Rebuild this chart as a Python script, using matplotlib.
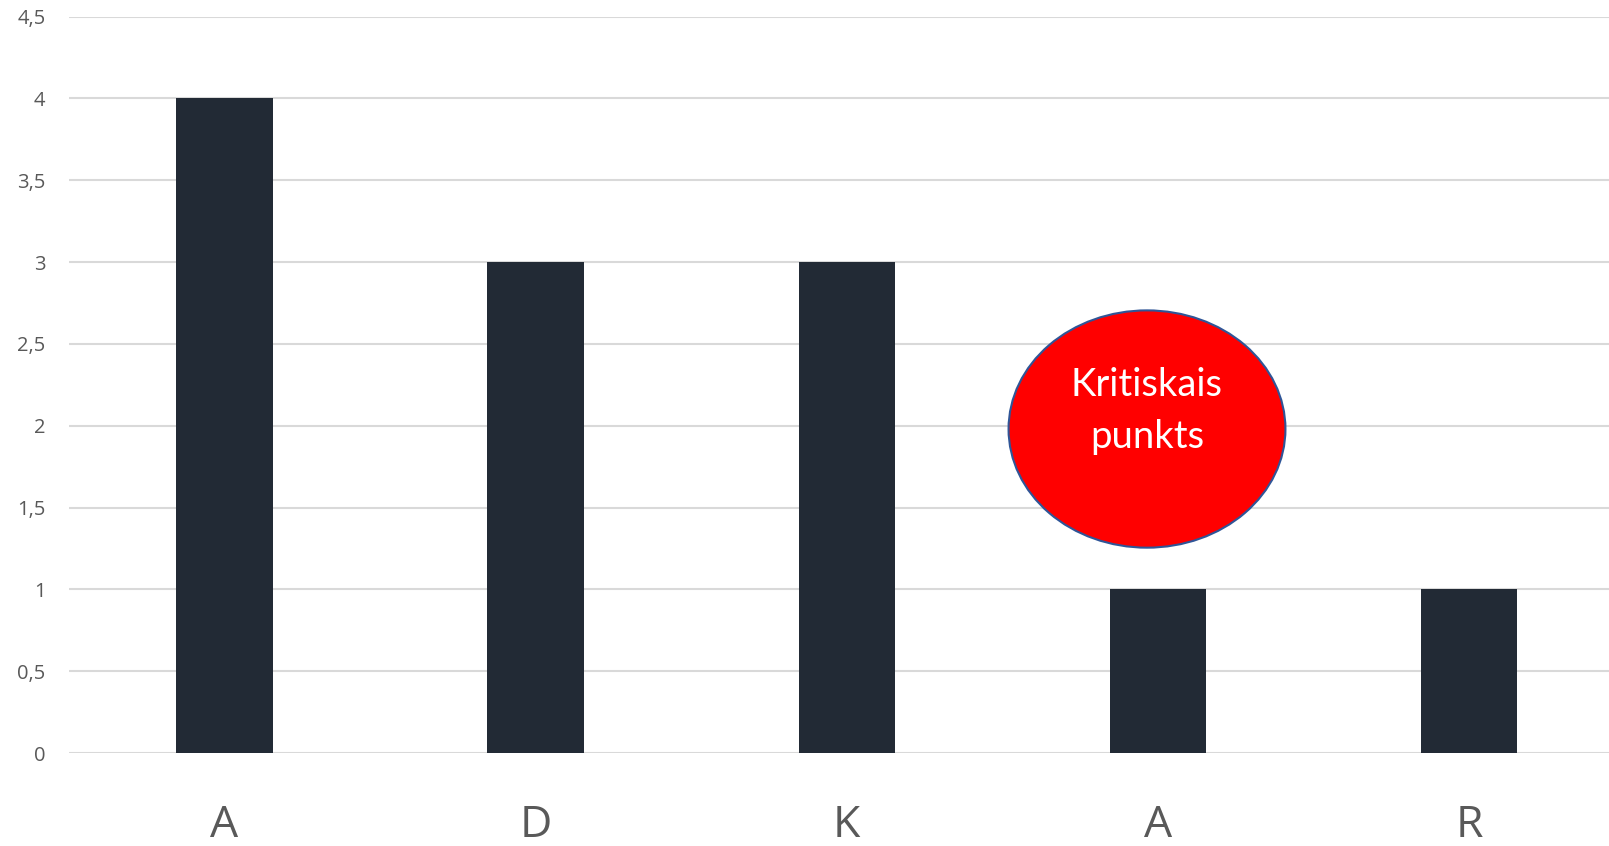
import matplotlib.pyplot as plt
plt.switch_backend('agg')
from matplotlib.patches import Ellipse
import numpy as np

categories = ['A', 'D', 'K', 'A', 'R']
values = [4, 3, 3, 1, 1]
yticks = [0, 0.5, 1, 1.5, 2, 2.5, 3, 3.5, 4, 4.5]
ytick_labels = ['0', '0,5', '1', '1,5', '2', '2,5', '3', '3,5', '4', '4,5']
note_text = 'Kritiskais\npunkts'

plt.rcParams['font.family'] = ['Open Sans', 'DejaVu Sans']

fig = plt.figure(figsize=(16.09, 8.46), dpi=100)
ax = fig.add_axes([69/1609, 0.1099, 1 - 69/1609, 0.9803 - 0.1099])

x = np.arange(len(categories))
ax.bar(x, values, width=0.31, color='#222A35', zorder=3)

ax.set_xlim(-0.5, 4.45)
ax.set_ylim(0, 4.5)
ax.set_yticks(yticks)
ax.set_yticklabels(ytick_labels)
ax.set_xticks(x)
ax.set_xticklabels(categories)

ax.yaxis.grid(True, color='#D9D9D9', linewidth=1.5, zorder=0)
ax.set_axisbelow(True)
for s in ax.spines.values():
    s.set_visible(False)
ax.tick_params(axis='y', length=0, pad=17, labelsize=14.5, labelcolor='#595959')
ax.tick_params(axis='x', length=0, pad=36, labelsize=32, labelcolor='#595959')

# annotation ellipse
ell = Ellipse((2.965, 1.98), 0.89, 1.45, facecolor='#FF0000', edgecolor='#2F5597',
              linewidth=1.5, zorder=4)
ax.add_patch(ell)
ax.text(2.965, 2.09, note_text, ha='center', va='center', color='white',
        fontsize=27.5, family=['Lato', 'DejaVu Sans'], linespacing=1.55, zorder=5)

plt.savefig('out.png', dpi=100)
plt.close()
